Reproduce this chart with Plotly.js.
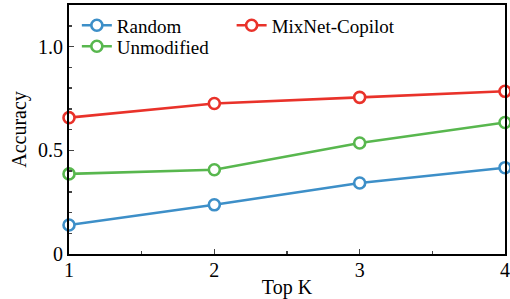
<!DOCTYPE html>
<html><head><meta charset="utf-8">
<script src="https://cdn.plot.ly/plotly-3.0.1.min.js"></script>
<style>html,body{margin:0;padding:0;background:#fff}</style>
</head><body>
<div id="chart" style="width:510px;height:299px"></div>
<script>
const topK = [1, 2, 3, 4];
const randomAcc = [0.140, 0.237, 0.342, 0.416];
const unmodifiedAcc = [0.386, 0.406, 0.535, 0.634];
const mixnetAcc = [0.657, 0.725, 0.755, 0.784];
const yTickVals = [0, 0.5, 1.0];
const yTickText = ['0', '0.5', '1.0'];
const xTickVals = [1, 2, 3, 4];

const font = 'Liberation Serif';
function tr(name, y, color, legend) {
  return {
    x: topK, y: y, name: name, type: 'scatter', mode: 'lines+markers', legend: legend,
    line: {color: color, width: 2.6},
    marker: {symbol: 'circle', size: 11, color: '#ffffff', line: {color: color, width: 2.6}},
    cliponaxis: false
  };
}
const data = [
  tr('Random', randomAcc, '#3d8fc8', 'legend'),
  tr('Unmodified', unmodifiedAcc, '#58b74e', 'legend2'),
  tr('MixNet-Copilot', mixnetAcc, '#e9322a', 'legend3')
];
function leg(x, y) {
  return {x: x, y: y, xanchor: 'left', yanchor: 'middle', orientation: 'v',
    font: {family: font, size: 19, color: '#000'}, bgcolor: 'rgba(0,0,0,0)',
    borderwidth: 0, itemwidth: 30};
}
const layout = {
  width: 510, height: 299,
  margin: {l: 69, r: 5, t: 5, b: 45},
  paper_bgcolor: '#fff', plot_bgcolor: '#fff',
  font: {family: font, color: '#000', size: 20},
  showlegend: true,
  legend: leg(0.018, 0.918),
  legend2: leg(0.018, 0.834),
  legend3: leg(0.373, 0.918),
  xaxis: {
    range: [1, 4], tickvals: xTickVals, ticks: 'inside', ticklen: 5, tickwidth: 1.5,
    showline: true, linecolor: '#000', linewidth: 2, mirror: true, showgrid: false, zeroline: false,
    tickfont: {family: font, size: 20}, ticklabeloverflow: 'allow', ticklabelstandoff: -3,
    minor: {dtick: 0.5, ticks: 'inside', ticklen: 3, tickwidth: 1.5, showgrid: false},
    title: {text: 'Top K', font: {family: font, size: 20}, standoff: 0}
  },
  yaxis: {
    range: [0, 1.2], tickvals: yTickVals, ticktext: yTickText, ticks: 'inside', ticklen: 5, tickwidth: 1.5,
    showline: true, linecolor: '#000', linewidth: 2, mirror: true, showgrid: false, zeroline: false,
    tickfont: {family: font, size: 20},
    minor: {dtick: 0.1, ticks: 'inside', ticklen: 3, tickwidth: 1.5, showgrid: false},
    title: {text: 'Accuracy', font: {family: font, size: 20}, standoff: 6}
  }
};
Plotly.newPlot('chart', data, layout, {displayModeBar: false, staticPlot: true});
</script>
</body></html>
